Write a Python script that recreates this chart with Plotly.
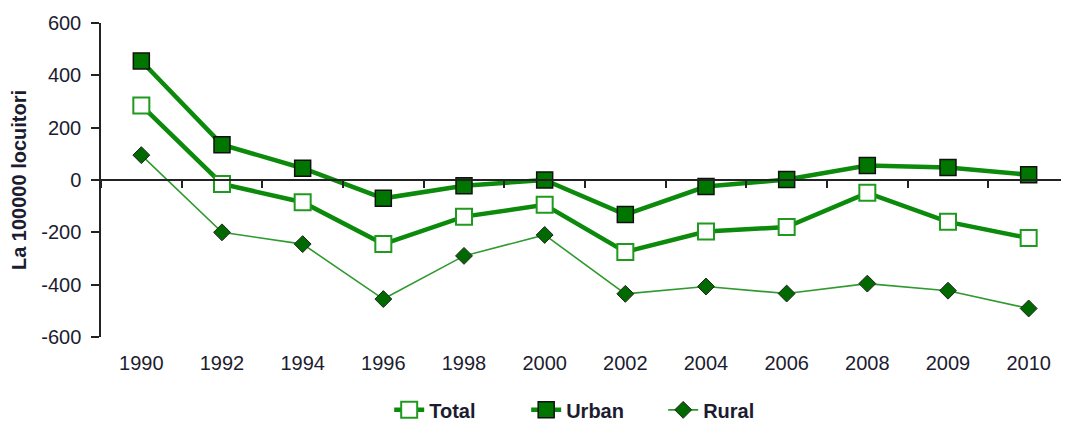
import plotly.graph_objects as go

years = ["1990", "1992", "1994", "1996", "1998", "2000", "2002", "2004", "2006", "2008", "2009", "2010"]
total = [285, -15, -85, -245, -140, -95, -275, -197, -180, -49, -160, -222]
urban = [455, 135, 45, -70, -22, 0, -132, -25, 2, 55, 48, 20]
rural = [95, -200, -245, -455, -290, -210, -435, -407, -434, -396, -423, -491]
yticks = [600, 400, 200, 0, -200, -400, -600]

GREEN = "#0b8a0b"
FONT = "Liberation Sans, Arial, sans-serif"
TXT = "#1c1c30"

fig = go.Figure()
fig.add_trace(go.Scatter(
    x=years, y=total, name="Total", mode="lines+markers",
    line=dict(color=GREEN, width=4.5),
    marker=dict(symbol="square", size=16, color="white", line=dict(color="#1f9a1f", width=2)),
))
fig.add_trace(go.Scatter(
    x=years, y=urban, name="Urban", mode="lines+markers",
    line=dict(color=GREEN, width=4.5),
    marker=dict(symbol="square", size=16, color="#007500", line=dict(color="#111", width=1.5)),
))
fig.add_trace(go.Scatter(
    x=years, y=rural, name="Rural", mode="lines+markers",
    line=dict(color="#2f9a2f", width=1.6),
    marker=dict(symbol="diamond", size=13, color="#006a00", line=dict(color="#222", width=1)),
))
# invisible trace to carry the zero-crossing axis
fig.add_trace(go.Scatter(x=years, y=[None] * len(years), xaxis="x2", showlegend=False,
                         hoverinfo="skip", mode="lines"))

# page body has an 8px default margin, so the figure is 8px smaller each way
fig.update_layout(
    width=1061, height=413,
    margin=dict(l=93, r=0, t=15, b=84, autoexpand=False),
    paper_bgcolor="white", plot_bgcolor="white",
    font=dict(family=FONT, size=19, color=TXT),
    showlegend=True,
    legend=dict(orientation="h", x=0.51, xanchor="center", y=-0.232, yanchor="middle",
                font=dict(family=FONT, size=20, color=TXT, weight="bold"),
                entrywidth=92, tracegroupgap=0),
    xaxis=dict(type="category", categoryorder="array", categoryarray=years,
               showline=False, showgrid=False, zeroline=False, automargin=False,
               ticks="outside", ticklen=8, tickcolor="rgba(0,0,0,0)",
               tickfont=dict(family=FONT, size=20, color=TXT),
               range=[-0.5, 11.5]),
    xaxis2=dict(type="category", categoryorder="array", categoryarray=years,
                overlaying="x", anchor="free", position=0.5, side="bottom",
                showline=True, linecolor="#222", linewidth=1.5,
                ticks="outside", ticklen=7, tickcolor="#222", tickwidth=1.5,
                tickson="boundaries", showticklabels=False, showgrid=False,
                zeroline=False, automargin=False, range=[-0.5, 11.5]),
    yaxis=dict(range=[-600, 600], tickvals=yticks, ticktext=[str(v) for v in yticks],
               showline=True, linecolor="#222", linewidth=1.5, automargin=False,
               ticks="outside", ticklen=8, tickcolor="#222", tickwidth=1.5,
               ticklabelstandoff=6, showgrid=False, zeroline=False,
               tickfont=dict(family=FONT, size=20, color=TXT),
               title=dict(text="La 100000 locuitori", standoff=14,
                          font=dict(family=FONT, size=20, color=TXT, weight="bold"))),
)

fig.write_html("out.html")
